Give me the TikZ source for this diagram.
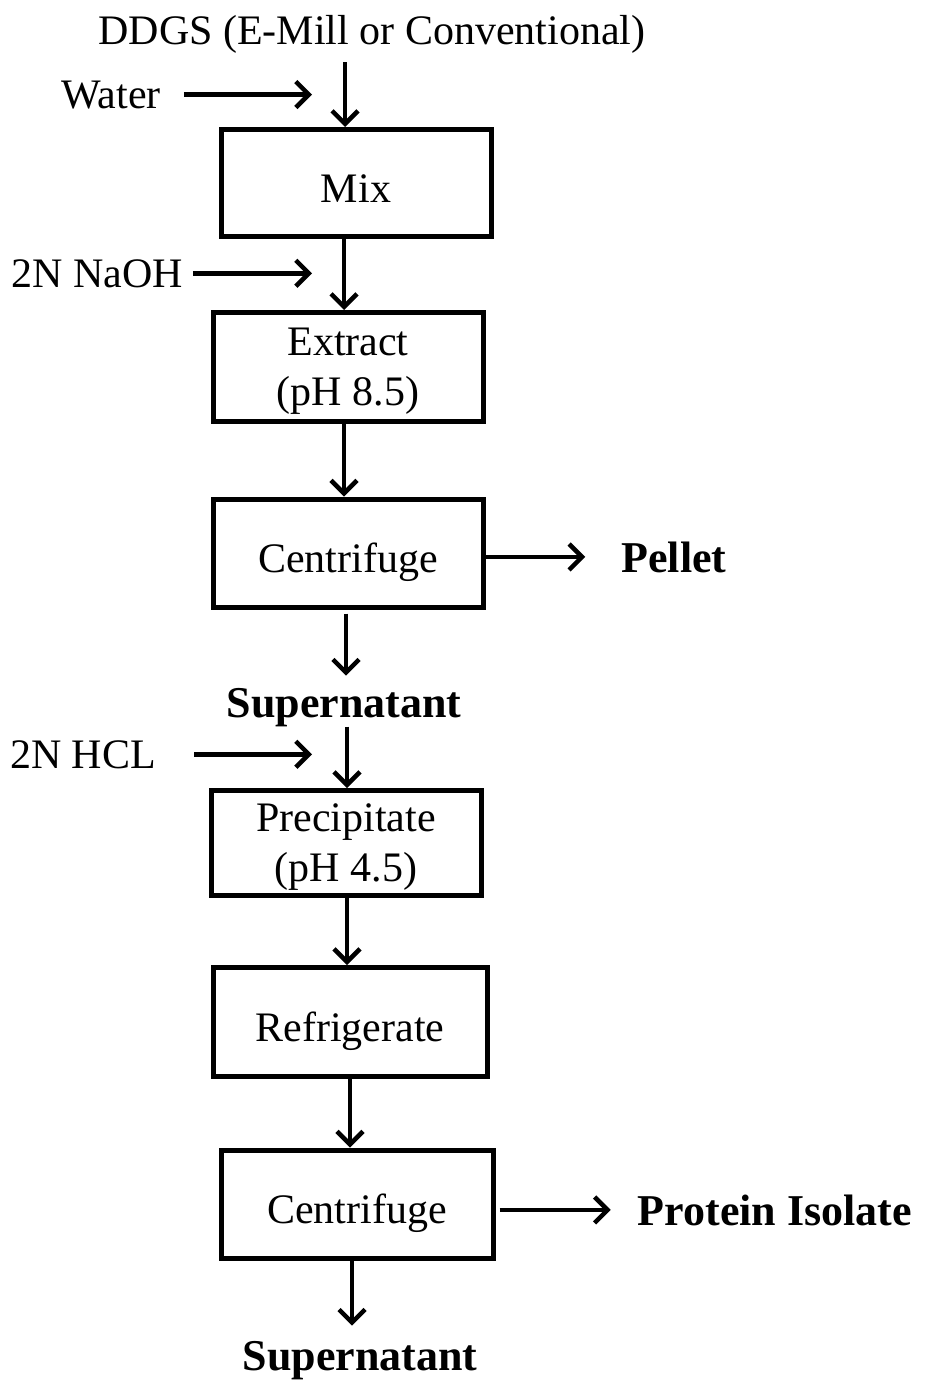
\documentclass[tikz,border=0pt]{standalone}
\usepackage{fontspec}
\setmainfont{Liberation Serif}
\usetikzlibrary{arrows.meta,positioning}
\tikzset{
  procbox/.style={draw, line width=5pt, minimum width=270pt, minimum height=107pt,
    align=center, inner sep=0pt, text depth=0pt, font=\fontsize{42}{50}\selectfont},
  onebox/.style={procbox, text height=38pt},
  lab/.style={inner sep=0pt, anchor=base, font=\fontsize{42}{50}\selectfont},
  outlab/.style={inner sep=0pt, anchor=base, font=\fontsize{44}{52}\selectfont\bfseries},
  flow/.style={line width=4.5pt, -{Straight Barb[length=13pt,width=26pt]}},
}

\begin{document}
\begin{tikzpicture}[x=1pt,y=-1pt]
  \useasboundingbox (0,0) rectangle (924,1381);

  % labels
  \node[lab] (ddgs) at (372,45) {DDGS (E-Mill or Conventional)};
  \node[lab] (water) at (111,108) {Water};
  \node[lab] (naoh) at (97,287) {2N NaOH};
  \node[lab] (hcl) at (83,768) {2N HCL};
  \node[outlab] (pellet) at (674,572) {Pellet};
  \node[outlab] (sup1) at (344,717) {Supernatant};
  \node[outlab] (prot) at (775,1225) {Protein Isolate};
  \node[outlab] (sup2) at (360,1370) {Supernatant};

  % process steps
  \node[onebox] (mix) at (356,183) {Mix};
  \node[procbox, minimum height=109pt] (ext) at (348,367) {Extract\\(pH 8.5)};
  \node[onebox, minimum height=108pt] (cen1) at (348,553) {Centrifuge};
  \node[procbox, minimum height=105pt] (prec) at (346,843) {Precipitate\\(pH 4.5)};
  \node[onebox, minimum width=274pt, minimum height=109pt] (refr) at (350,1022) {Refrigerate};
  \node[onebox, minimum width=272pt, minimum height=108pt] (cen2) at (357,1204) {Centrifuge};

  % where the feed arrows stop
  \coordinate (feedx) at (312,0);

  % main line
  \draw[flow, shorten <=8pt] ([xshift=-11pt]mix.north |- ddgs.south) -- ([xshift=-11pt]mix.north);
  \draw[flow] ([xshift=-12pt]mix.south) -- ([xshift=-4pt]ext.north);
  \draw[flow] ([xshift=-4pt]ext.south) -- ([xshift=-4pt]cen1.north);
  \draw[flow, shorten <=4pt, shorten >=12pt] ([xshift=-2pt]cen1.south) -- ([xshift=-2pt]cen1.south |- sup1.north);
  \draw[flow] ([xshift=1pt]prec.north |- sup1.south) -- ([xshift=1pt]prec.north);
  \draw[flow] ([xshift=1pt]prec.south) -- ([xshift=-3pt]refr.north);
  \draw[flow] (refr.south) -- ([xshift=-7pt]cen2.north);
  \draw[flow, shorten >=15pt] ([xshift=-5pt]cen2.south) -- ([xshift=-5pt]cen2.south |- sup2.north);

  % feeds
  \draw[flow, shorten <=23pt] (water.east) -- (water.east -| feedx);
  \draw[flow, shorten <=10pt] (naoh.east) -- (naoh.east -| feedx);
  \draw[flow, shorten <=38pt] (hcl.east) -- (hcl.east -| feedx);

  % outputs
  \draw[flow, shorten >=36pt] (cen1.east |- pellet.west) -- (pellet.west);
  \draw[flow, shorten <=4pt, shorten >=27pt] (cen2.east |- prot.west) -- (prot.west);
\end{tikzpicture}
\end{document}
